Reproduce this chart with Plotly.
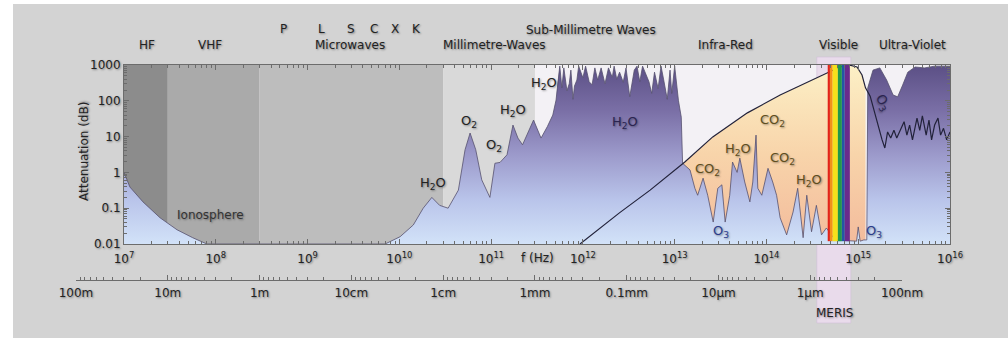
import math
import plotly.graph_objects as go

C = 3.0e8          # speed of light (m/s)
Y_FLOOR = 0.01     # bottom of attenuation axis (dB)
Y_TOP = 1000       # top of attenuation axis (dB)

# ---------------- atmospheric attenuation (purple area) ----------------
atten_freq_hz = [
    1.0e7, 1.16e7, 1.61e7, 2.47e7, 3.78e7, 5.6e7, 8.0e7,
    7.0e9, 1.02e10, 1.42e10, 1.82e10, 2.26e10, 2.75e10, 3.4e10,
    4.4e10, 5.2e10, 5.9e10, 6.8e10, 7.9e10, 9.7e10,
    1.1e11, 1.25e11, 1.49e11, 1.73e11, 1.96e11, 2.2e11, 2.9e11, 3.5e11, 4.1e11, 4.7e11, 5.1e11,
    5.35e11, 5.6e11, 5.9e11, 6.2e11, 6.7e11, 7.1e11, 7.4e11, 7.8e11, 8.1e11, 8.6e11, 9.0e11,
    1.0e12, 1.07e12, 1.17e12, 1.26e12, 1.35e12, 1.45e12, 1.58e12, 1.74e12, 1.9e12, 2.09e12,
    2.19e12, 2.34e12, 2.51e12, 2.75e12, 2.95e12, 3.24e12, 3.63e12, 3.89e12, 4.17e12, 4.47e12,
    4.9e12, 5.25e12, 5.62e12, 6.03e12, 6.6e12, 7.1e12, 7.6e12, 8.3e12, 8.9e12, 9.3e12, 1.0e13,
    1.1e13, 1.18e13, 1.22e13,
    1.47e13, 1.66e13, 1.78e13, 2.04e13, 2.29e13, 2.63e13, 2.95e13, 3.27e13, 3.55e13, 3.98e13,
    4.27e13, 4.79e13, 5.13e13, 5.8e13, 6.6e13, 7.1e13, 7.7e13, 8.05e13, 8.9e13, 1.04e14,
    1.17e14, 1.29e14, 1.41e14, 1.66e14, 1.95e14, 2.19e14, 2.51e14, 2.75e14, 3.1e14, 3.5e14,
    3.98e14, 4.5e14, 5.6e14, 8.1e14, 9.6e14, 1.0e15, 1.05e15, 1.15e15, 1.24e15,
    1.27e15, 1.45e15, 1.72e15, 2.04e15, 2.4e15, 2.69e15, 3.05e15, 3.47e15, 4.17e15, 5.3e15,
    6.8e15, 1.0e16,
]
atten_db = [
    1.0, 0.39, 0.15, 0.054, 0.025, 0.015, 0.01,
    0.01, 0.016, 0.034, 0.10, 0.20, 0.12, 0.10,
    0.32, 4.3, 12.6, 4.3, 0.62, 0.20,
    1.8, 1.9, 3.1, 21, 9.1, 5.9, 29, 9.1, 19, 40, 105,
    380, 930, 230, 830, 190, 300, 720, 110, 260, 380, 930,
    440, 930, 340, 280, 830, 380, 830, 300, 830, 450,
    930, 400, 630, 330, 830, 130, 720, 930, 340, 930,
    500, 340, 160, 630, 220, 930, 380, 110, 720, 160, 930,
    100, 35, 1.8,
    1.17, 0.36, 0.23, 0.69, 0.23, 0.041, 0.36, 0.45, 0.041, 0.23,
    1.95, 1.0, 2.5, 0.54, 0.15, 0.54, 11, 0.36, 0.23, 1.3,
    0.54, 0.23, 0.054, 0.018, 0.078, 0.36, 0.015, 0.23, 0.022, 0.12,
    0.018, 0.028, 0.013, 0.012, 0.012, 0.03, 0.012, 0.013, 0.013,
    230, 720, 830, 380, 145, 129, 275, 630, 880, 830,
    930, 930,
]

# ---------------- boundary curve (black line, peach area below) ----------------
black_freq_hz = [9.3e11, 2.5e12, 5.4e12, 1.29e13, 2.6e13, 6.2e13, 1.41e14, 3.2e14,
                 4.7e14, 6.3e14, 8.1e14, 9.7e14, 1.1e15, 1.2e15]
black_db = [0.01, 0.074, 0.32, 1.95, 9.8, 46, 145, 380, 600, 880, 990, 880, 525, 230]

# ---------------- UV ozone line ----------------
uv_freq_hz = [1.35e15, 1.48e15, 1.62e15, 1.82e15, 1.95e15, 2.09e15, 2.26e15, 2.45e15,
              2.63e15, 2.82e15, 3.16e15, 3.39e15, 3.63e15, 3.9e15, 4.37e15, 4.68e15,
              5.0e15, 5.5e15, 5.9e15, 6.3e15, 6.8e15, 7.4e15, 7.9e15, 8.5e15, 9.2e15, 1.0e16]
uv_db = [135, 55, 26, 8.1, 4.8, 13.5, 9.1, 15, 9.1, 13.5, 26, 11, 21, 8.1, 33, 15,
         38, 11, 29, 8.1, 21, 33, 11, 17, 8.1, 13.5]

# ---------------- bands / spectrum ----------------
band_edges_hz = [1e7, 3e7, 3e8, 3e10, 3e11]
band_colors = ['#8c8c8c', '#aaaaaa', '#bdbdbd', '#d9d9d9']

visible_edges_nm = [645, 610, 570, 500, 452, 420, 370]
visible_colors = ['#e2231a', '#f3901a', '#f5e11b', '#22994a', '#2356a6', '#6a2b8c']
visible_floor_db = 0.012

meris_hz = [3.54e14, 8.3e14]

freq_ticks_exp = list(range(7, 17))
atten_ticks = [0.01, 0.1, 1, 10, 100, 1000]
atten_tick_text = ['0.01', '0.1', '1', '10', '100', '1000']
wave_ticks_m = [100, 10, 1, 0.1, 0.01, 1e-3, 1e-4, 1e-5, 1e-6, 1e-7]
wave_tick_text = ['100m', '10m', '1m', '10cm', '1cm', '1mm', '0.1mm', '10µm', '1µm', '100nm']

W, H = 1008, 338
FONT = 'DejaVu Sans'
SHADOW = '1px 1px 2px rgba(0,0,0,0.4)'
TXT = '#222222'
AX = '#6c6c6c'

peach_scale = [[0, '#f3bb9c'], [0.5, '#f8d4aa'], [1, '#fcf0c6']]
purple_scale = [[0, '#d2e2f8'], [0.25, '#b9c4ea'], [0.5, '#9c9acb'],
                [0.75, '#7a6fa6'], [1, '#5c5086']]

fig = go.Figure()


def rect_trace(f0, f1, y0, y1, color):
    return go.Scatter(x=[f0, f1, f1, f0, f0], y=[y0, y0, y1, y1, y0], mode='lines',
                      fill='toself', fillcolor=color, line=dict(width=0),
                      hoverinfo='skip')


# radio bands (region above the curve)
for i, col in enumerate(band_colors):
    fig.add_trace(rect_trace(band_edges_hz[i], band_edges_hz[i + 1], Y_FLOOR, Y_TOP, col))

# peach area under the boundary curve
fig.add_trace(go.Scatter(
    x=black_freq_hz + [black_freq_hz[-1]], y=black_db + [Y_FLOOR],
    mode='lines', fill='toself', line=dict(width=0),
    fillgradient=dict(type='vertical', colorscale=peach_scale),
    hoverinfo='skip'))

# purple attenuation area
fig.add_trace(go.Scatter(
    x=[atten_freq_hz[0]] + atten_freq_hz + [atten_freq_hz[-1]],
    y=[Y_FLOOR] + atten_db + [Y_FLOOR],
    mode='lines', fill='toself', line=dict(width=0),
    fillgradient=dict(type='vertical', colorscale=purple_scale),
    hoverinfo='skip'))

# attenuation outline
fig.add_trace(go.Scatter(x=atten_freq_hz, y=atten_db, mode='lines',
                         line=dict(color='#55506e', width=0.8), hoverinfo='skip'))

# black boundary + UV line
fig.add_trace(go.Scatter(x=black_freq_hz + uv_freq_hz, y=black_db + uv_db, mode='lines',
                         line=dict(color='#22223a', width=1.2), hoverinfo='skip'))

# visible spectrum
for i, col in enumerate(visible_colors):
    fig.add_trace(rect_trace(C / (visible_edges_nm[i] * 1e-9), C / (visible_edges_nm[i + 1] * 1e-9),
                             visible_floor_db, Y_TOP, col))

# dummy trace for wavelength axis
fig.add_trace(go.Scatter(x=[C / wave_ticks_m[0], C / wave_ticks_m[-1]], y=[-1, -1],
                         xaxis='x2', yaxis='y2', mode='markers',
                         marker=dict(opacity=0), hoverinfo='skip'))

shapes = []
# grey panel
shapes.append(dict(type='rect', xref='paper', yref='paper', x0=13 / W, x1=1, y0=0, y1=1 - 4 / H,
                   fillcolor='#d3d3d3', line=dict(width=0), layer='below'))
# plot background
shapes.append(dict(type='rect', xref='x domain', yref='y domain', x0=0, x1=1, y0=0, y1=1,
                   fillcolor='#f3f1f5', line=dict(width=0), layer='below'))
# MERIS band
shapes.append(dict(type='rect', xref='x', yref='paper',
                   x0=meris_hz[0], x1=meris_hz[1],
                   y0=1 - 323 / H, y1=1 - 57 / H,
                   fillcolor='#e9dbeb', line=dict(width=0.6, color='#d2c0d6'), layer='below'))

annotations = []


def paper_label(text, px, py, size=13, color=TXT, angle=0):
    annotations.append(dict(text=text, xref='paper', yref='paper', x=px / W, y=1 - py / H,
                            xanchor='center', yanchor='middle',
                            showarrow=False, textangle=angle,
                            font=dict(family=FONT, size=size, color=color, shadow=SHADOW)))


def data_label(text, f_hz, db, size=13, color=TXT, angle=0):
    annotations.append(dict(text=text, xref='x', yref='y', x=math.log10(f_hz), y=math.log10(db),
                            xanchor='center', yanchor='middle',
                            showarrow=False, textangle=angle,
                            font=dict(family=FONT, size=size, color=color, shadow=SHADOW)))


# band names above the chart
paper_label('HF', 147, 45, size=12)
paper_label('VHF', 210, 45, size=12)
for t, x in [('P', 283), ('L', 321), ('S', 351), ('C', 374), ('X', 395), ('K', 416)]:
    paper_label(t, x, 29, size=12)
paper_label('Microwaves', 350, 45, size=12)
paper_label('Millimetre-Waves', 494, 45, size=12)
paper_label('Sub-Millimetre Waves', 591, 30, size=12)
paper_label('Infra-Red', 725, 45, size=12)
paper_label('Visible', 838, 45, size=12)
paper_label('Ultra-Violet', 912, 45, size=12)
paper_label('MERIS', 834, 313, size=12)
paper_label('f (Hz)', 537, 258, size=12)
paper_label('Attenuation (dB)', 84, 152, size=12, angle=-90)

# molecule labels
IR = '#5e4e1e'
BLUE = '#2c3c8c'
data_label('Ionosphere', 8.7e7, 0.065, size=12, color='#333333')
data_label('H<sub>2</sub>O', 2.35e10, 0.5)
data_label('O<sub>2</sub>', 5.75e10, 27)
data_label('O<sub>2</sub>', 1.07e11, 5.5)
data_label('H<sub>2</sub>O', 1.74e11, 55)
data_label('H<sub>2</sub>O', 3.8e11, 295)
data_label('H<sub>2</sub>O', 2.9e12, 24, color='#2a2450')
data_label('CO<sub>2</sub>', 1.15e14, 29, color=IR)
data_label('H<sub>2</sub>O', 4.9e13, 4.3, color=IR)
data_label('CO<sub>2</sub>', 1.48e14, 2.5, color=IR)
data_label('CO<sub>2</sub>', 2.3e13, 1.17, color=IR)
data_label('H<sub>2</sub>O', 2.9e14, 0.58, color=IR)
data_label('O<sub>3</sub>', 3.2e13, 0.023, color=BLUE)
data_label('O<sub>3</sub>', 1.5e15, 0.023, color=BLUE)
data_label('O<sub>3</sub>', 1.82e15, 87, color='#2a2450', angle=60)

axis_common = dict(showline=True, linecolor=AX, linewidth=1, ticks='inside', tickcolor=AX,
                   ticklen=5, tickwidth=1, showgrid=False, zeroline=False, automargin=False,
                   tickfont=dict(family=FONT, size=12, color=TXT, shadow=SHADOW))

x_minor = [k * 10 ** n for n in range(7, 16) for k in range(2, 10)]
y_minor = [k * 10.0 ** n for n in range(-2, 3) for k in range(2, 10)]
w_minor = [C / (k * 10.0 ** n) for n in range(-7, 2) for k in range(2, 10)]

fig.update_layout(
    width=W, height=H, autosize=False,
    margin=dict(l=0, r=0, t=0, b=0, pad=0, autoexpand=False),
    paper_bgcolor='white', plot_bgcolor='rgba(0,0,0,0)',
    showlegend=False,
    font=dict(family=FONT, color=TXT),
    xaxis=dict(type='log', range=[7, 16], domain=[124 / W, 950 / W], anchor='y',
               mirror='ticks', ticklabelstandoff=4,
               tickmode='array', tickvals=[10 ** e for e in freq_ticks_exp],
               ticktext=[f'10<sup>{e}</sup>' for e in freq_ticks_exp],
               minor=dict(tickmode='array', tickvals=x_minor, ticks='inside', ticklen=3,
                          tickcolor=AX, showgrid=False),
               **axis_common),
    yaxis=dict(type='log', range=[-2, 3], domain=[1 - 244 / H, 1 - 65 / H], anchor='x',
               mirror='ticks',
               tickmode='array', tickvals=atten_ticks, ticktext=atten_tick_text,
               minor=dict(tickmode='array', tickvals=y_minor, ticks='inside', ticklen=3,
                          tickcolor=AX, showgrid=False),
               **axis_common),
    xaxis2=dict(type='log', range=[math.log10(C / wave_ticks_m[0]), math.log10(C / wave_ticks_m[-1])],
                domain=[76 / W, 902 / W], anchor='y2', ticklabelstandoff=2,
                tickmode='array', tickvals=[C / w for w in wave_ticks_m], ticktext=wave_tick_text,
                minor=dict(tickmode='array', tickvals=w_minor, ticks='inside', ticklen=3,
                           tickcolor=AX, showgrid=False),
                **axis_common),
    yaxis2=dict(domain=[1 - 280 / H, 1 - 272 / H], range=[0, 1], visible=False, anchor='x2'),
    shapes=shapes,
    annotations=annotations,
)

fig.write_html('out.html')
